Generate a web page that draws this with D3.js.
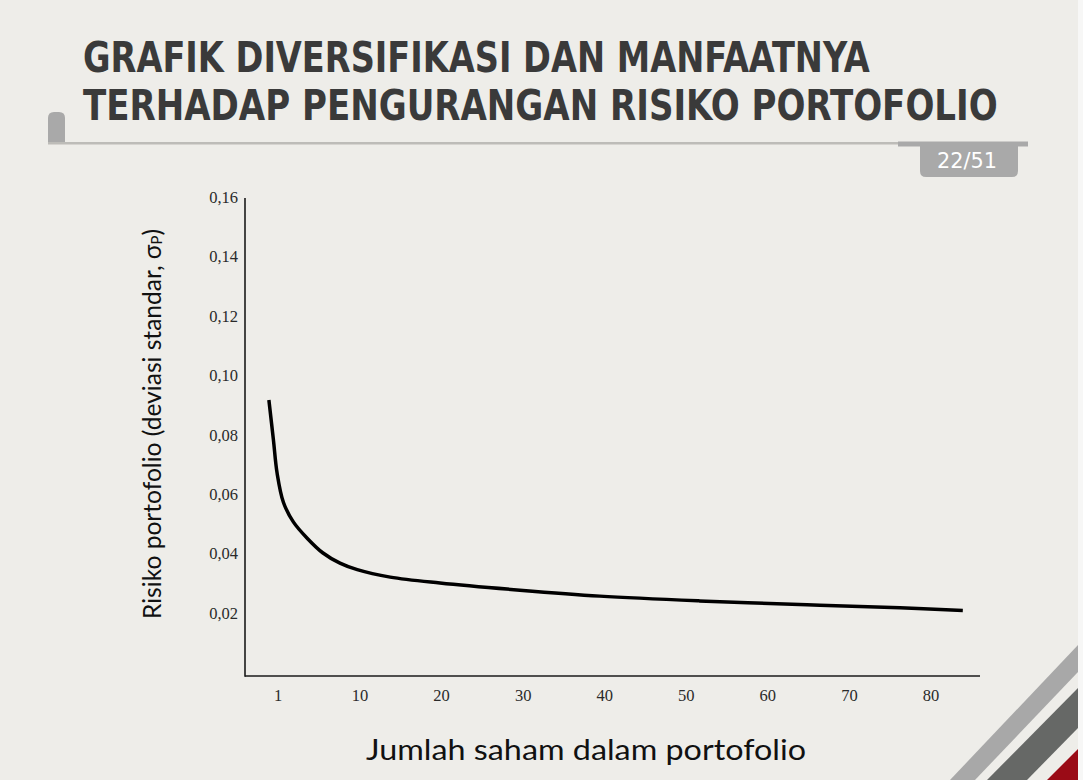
<!DOCTYPE html>
<html><head><meta charset="utf-8">
<script src="https://cdn.jsdelivr.net/npm/d3@7/dist/d3.min.js"></script>
<style>html,body{margin:0;padding:0;background:#eeede9;}svg{display:block;}</style>
</head><body>
<svg id="c" width="1083" height="780"></svg>
<script>
const titleLines = ["GRAFIK DIVERSIFIKASI DAN MANFAATNYA", "TERHADAP PENGURANGAN RISIKO PORTOFOLIO"];
const pageLabel = "22/51";
const xTitle = "Jumlah saham dalam portofolio";
const yTitleMain = "Risiko portofolio (deviasi standar, σ";
const yTitleSub = "P";
const yTitleEnd = ")";
const xTicks = [1, 10, 20, 30, 40, 50, 60, 70, 80];
const yTicks = [0.02, 0.04, 0.06, 0.08, 0.10, 0.12, 0.14, 0.16];
// curve: number of stocks vs portfolio std dev
const nStocks = [0, 0.5, 0.9, 1.6, 2.7, 4.2, 5.9, 7.8, 9.7, 13.7, 19.8, 29.6, 39.4, 51.6, 64.8, 76.2, 83.9];
const risk   = [0.0917, 0.0782, 0.0671, 0.0572, 0.0506, 0.0452, 0.0403, 0.0368, 0.0346, 0.0321, 0.0301, 0.0277, 0.0257, 0.0241, 0.0228, 0.0218, 0.0209];

const svg = d3.select("#c");
const W = 1083, H = 780;

svg.append("rect").attr("width", W).attr("height", H).attr("fill", "#eeede9");
svg.append("rect").attr("x", 1078).attr("width", 5).attr("height", H).attr("fill", "#f7f7f6");

const stripes = [
  {pts: [[950,780],[975,780],[1078,672],[1078,645]], c: "#a8a8a8"},
  {pts: [[987,780],[1027,780],[1078,728],[1078,688]], c: "#666866"},
  {pts: [[1047,780],[1078,780],[1078,749]], c: "#9a0b16"}
];
svg.selectAll("polygon.s").data(stripes).enter().append("polygon")
  .attr("points", d => d.pts.map(p => p.join(",")).join(" "))
  .attr("fill", d => d.c);

svg.append("path").attr("d", "M48,144 L48,118 Q48,112 54,112 L59,112 Q65,112 65,118 L65,144 Z").attr("fill", "#a9a9a9");
svg.append("rect").attr("x", 48).attr("y", 142).attr("width", 860).attr("height", 2.5).attr("fill", "#bdbcb8");
svg.append("rect").attr("x", 898).attr("y", 141.5).attr("width", 130).attr("height", 5).attr("fill", "#a9a9a9");
svg.append("path").attr("d", "M920,144 L1018,144 L1018,171 Q1018,177 1012,177 L926,177 Q920,177 920,171 Z").attr("fill", "#a9a9a9");
svg.append("text").attr("x", 967).attr("y", 168).attr("text-anchor", "middle")
  .attr("font-family", "'DejaVu Sans Condensed','DejaVu Sans',sans-serif").attr("font-size", 22)
  .attr("fill", "#ffffff").attr("textLength", 60).attr("lengthAdjust", "spacingAndGlyphs").text(pageLabel);

// title: scaled horizontally to the reference widths
const tl = [{t: titleLines[0], y: 72, len: 787}, {t: titleLines[1], y: 120, len: 915}];
tl.forEach(d => {
  const g = svg.append("g");
  const t = g.append("text").attr("x", 0).attr("y", 0)
    .attr("font-family", "'DejaVu Sans Condensed','DejaVu Sans',sans-serif")
    .attr("font-weight", "bold").attr("font-size", 42).attr("fill", "#3a3a3a")
    .text(d.t);
  const nat = t.node().getComputedTextLength();
  g.attr("transform", `translate(83,${d.y}) scale(${d.len / nat},1)`);
});

const x = d3.scaleLinear().domain([1, 10, 80]).range([278, 360, 931]);
const y = d3.scaleLinear().domain([0, 0.16]).range([672.5, 197]);
const axisX0 = 245, axisY0 = 676;

svg.append("line").attr("x1", axisX0).attr("x2", axisX0).attr("y1", 198).attr("y2", axisY0 + 0.75)
  .attr("stroke", "#1a1a1a").attr("stroke-width", 1.6);
svg.append("line").attr("x1", axisX0).attr("x2", 980).attr("y1", axisY0).attr("y2", axisY0)
  .attr("stroke", "#1a1a1a").attr("stroke-width", 1.6);

const fmt = v => v.toFixed(2).replace(".", ",");
svg.selectAll("text.yt").data(yTicks).enter().append("text").attr("class", "yt")
  .attr("x", 238).attr("y", d => y(d)).attr("dy", "0.35em").attr("text-anchor", "end")
  .attr("font-family", "'Liberation Serif','Times New Roman',serif").attr("font-size", 16.5)
  .attr("fill", "#2a2a2a").text(fmt);

svg.selectAll("text.xt").data(xTicks).enter().append("text").attr("class", "xt")
  .attr("x", d => x(d)).attr("y", 701).attr("text-anchor", "middle")
  .attr("font-family", "'Liberation Serif','Times New Roman',serif").attr("font-size", 16.5)
  .attr("fill", "#2a2a2a").text(d => d);

const pts = nStocks.map((n, i) => [n, risk[i]]);
const line = d3.line().x(d => x(d[0])).y(d => y(d[1])).curve(d3.curveCatmullRom.alpha(0.5));
svg.append("path").attr("d", line(pts)).attr("fill", "none")
  .attr("stroke", "#000").attr("stroke-width", 3.5).attr("stroke-linecap", "butt").attr("stroke-linejoin", "round");

svg.append("text").attr("x", 586).attr("y", 760).attr("text-anchor", "middle")
  .attr("font-family", "'Lato','Noto Sans',sans-serif").attr("font-size", 29).attr("fill", "#111")
  .attr("textLength", 440).attr("lengthAdjust", "spacingAndGlyphs").text(xTitle);

const yt = svg.append("text").attr("transform", "translate(161,424) rotate(-90)")
  .attr("text-anchor", "middle")
  .attr("font-family", "'Lato','Noto Sans',sans-serif").attr("font-size", 25).attr("fill", "#111")
  .attr("textLength", 390).attr("lengthAdjust", "spacingAndGlyphs");
yt.append("tspan").text(yTitleMain);
yt.append("tspan").attr("font-size", 15).attr("dy", 1).text(yTitleSub);
yt.append("tspan").attr("dy", -1).text(yTitleEnd);
</script>
</body></html>
